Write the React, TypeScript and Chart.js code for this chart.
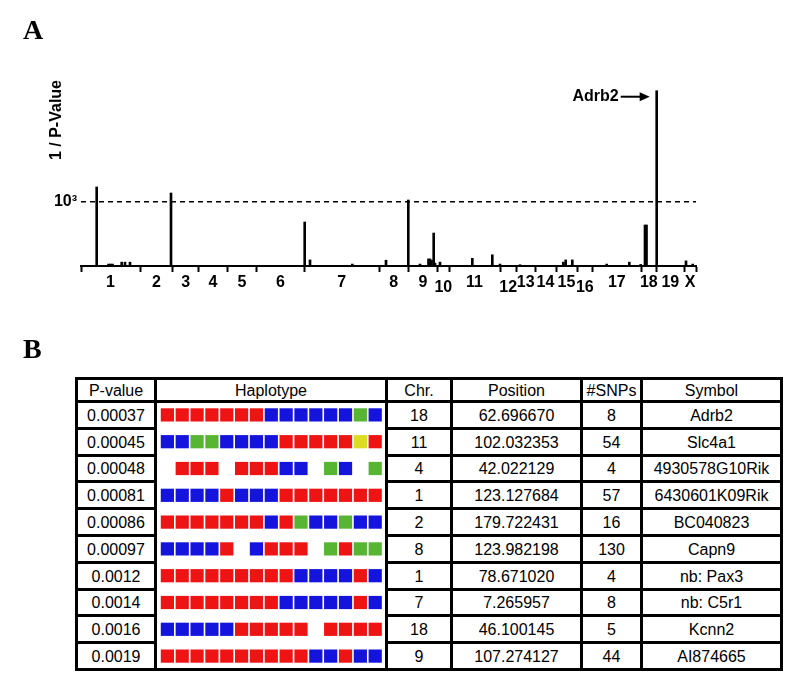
import React, { useEffect, useRef } from 'react';
import { Chart, registerables } from 'chart.js';

Chart.register(...registerables);

const SANS = '"Liberation Sans", Arial, Helvetica, sans-serif';
const SERIF = '"Liberation Serif", "Times New Roman", serif';

// ---------- Panel A data ----------
const chromosomeNames = ['1', '2', '3', '4', '5', '6', '7', '8', '9', '10', '11', '12', '13', '14', '15', '16', '17', '18', '19', 'X'];
// chromosome boundaries along the concatenated genome axis (relative units)
const chromosomeBounds = [0, 59, 91.7, 117.7, 146.3, 175.7, 223.3, 298.3, 327.3, 356.7, 368, 419, 435.3, 454, 475, 496, 511.7, 560, 575.7, 603, 615];
const loweredLabels = ['10', '12', '16'];
const thresholdValue = 1000;
const yAxisMax = 2900;
const spikePositions = [15.7, 27.5, 29.5, 31.5, 40.7, 44, 49, 90, 223.7, 229, 271.3, 305, 327.3, 339, 347.5, 349, 350.5, 352.7, 354, 359, 391.3, 411.3, 419, 439, 482.3, 484.7, 491.3, 525.7, 548.3, 559.7, 564, 565.5, 575.7, 605, 611.7];
const spikeValues = [1232, 30, 30, 30, 60, 60, 60, 1138, 686, 95, 30, 90, 1029, 30, 110, 110, 90, 514, 45, 60, 120, 175, 30, 20, 60, 95, 95, 30, 60, 25, 639, 639, 2733, 80, 30];
const annotatedGene = 'Adrb2';

// ---------- Panel B data ----------
const tableHeaders = ['P-value', 'Haplotype', 'Chr.', 'Position', '#SNPs', 'Symbol'];
const pValues = ['0.00037', '0.00045', '0.00048', '0.00081', '0.00086', '0.00097', '0.0012', '0.0014', '0.0016', '0.0019'];
const haplotypes = [
  'RRRRRRRBBBBBBGB',
  'BBGGBBBBRRRRRYR',
  '-RRR-RRRBB-GB-G',
  'BBBBRBBBRRRRRRR',
  'RRRRRRRBRGBBGBB',
  'BBBBR-BRRR-GRGG',
  'RRRRRRRRRBBBBRB',
  'RRRRRRRRBBBBBRB',
  'BBBBBRRRRR-RRRR',
  'RRRRRRRRRRBBRBB',
];
const chromosomes = ['18', '11', '4', '1', '2', '8', '1', '7', '18', '9'];
const positions = ['62.696670', '102.032353', '42.022129', '123.127684', '179.722431', '123.982198', '78.671020', '7.265957', '46.100145', '107.274127'];
const snpCounts = ['8', '54', '4', '57', '16', '130', '4', '8', '5', '44'];
const symbols = ['Adrb2', 'Slc4a1', '4930578G10Rik', '6430601K09Rik', 'BC040823', 'Capn9', 'nb: Pax3', 'nb: C5r1', 'Kcnn2', 'AI874665'];
const alleleCodes = ['R', 'B', 'G', 'Y'];
const alleleColors = ['#ee1414', '#1414dd', '#58b533', '#dcdc22'];

function ManhattanChart() {
  const ref = useRef<HTMLCanvasElement>(null);
  useEffect(() => {
    const centers = chromosomeNames.map((_, i) => (chromosomeBounds[i] + chromosomeBounds[i + 1]) / 2);
    const labelAt = new Map<number, string>();
    centers.forEach((c, i) => labelAt.set(c, chromosomeNames[i]));
    const boundarySet = new Set(chromosomeBounds);
    const tickValues = [...chromosomeBounds, ...centers].sort((a, b) => a - b);

    const arrowPlugin = {
      id: 'geneArrow',
      afterDatasetsDraw(chart: any) {
        const data = chart.data.datasets[0].data as { x: number; y: number }[];
        let best = data[0];
        data.forEach((d) => { if (d.y > best.y) best = d; });
        const px = chart.scales.x.getPixelForValue(best.x);
        const py = chart.scales.y.getPixelForValue(best.y);
        const tipX = px - 7;
        const ay = py + 6;
        const ctx = chart.ctx;
        ctx.save();
        ctx.strokeStyle = '#000';
        ctx.fillStyle = '#000';
        ctx.lineWidth = 2;
        ctx.beginPath();
        ctx.moveTo(tipX - 29, ay);
        ctx.lineTo(tipX - 7, ay);
        ctx.stroke();
        ctx.beginPath();
        ctx.moveTo(tipX, ay);
        ctx.lineTo(tipX - 10, ay - 4.5);
        ctx.lineTo(tipX - 10, ay + 4.5);
        ctx.closePath();
        ctx.fill();
        ctx.font = `bold 16px ${SANS}`;
        ctx.textAlign = 'right';
        ctx.textBaseline = 'middle';
        ctx.fillText(annotatedGene, tipX - 31, ay);
        ctx.restore();
      },
    };

    const chart = new Chart(ref.current as HTMLCanvasElement, {
      type: 'bar',
      data: {
        datasets: [
          {
            data: spikePositions.map((x, i) => ({ x, y: spikeValues[i] })),
            backgroundColor: '#000',
            borderWidth: 0,
            barThickness: 2,
          } as any,
        ],
      },
      options: {
        animation: false,
        responsive: false,
        events: [],
        layout: { autoPadding: false, padding: { left: 0, right: 104, top: 80, bottom: 0 } },
        plugins: { legend: { display: false }, tooltip: { enabled: false } },
        scales: {
          x: {
            type: 'linear',
            min: chromosomeBounds[0],
            max: chromosomeBounds[chromosomeBounds.length - 1],
            offset: false,
            afterBuildTicks: (scale: any) => {
              scale.ticks = tickValues.map((v) => ({ value: v }));
            },
            afterFit: (scale: any) => {
              scale.height = 44;
            },
            border: { display: true, color: '#000', width: 2 },
            grid: {
              offset: false,
              drawOnChartArea: false,
              drawTicks: true,
              tickLength: 6,
              tickWidth: 2,
              tickColor: (ctx: any) => (ctx.tick && boundarySet.has(ctx.tick.value) ? '#000' : 'rgba(0,0,0,0)'),
            },
            ticks: {
              autoSkip: false,
              maxRotation: 0,
              minRotation: 0,
              padding: 1,
              color: '#000',
              font: (ctx: any) => {
                const name = ctx.tick ? labelAt.get(ctx.tick.value) : undefined;
                const low = name !== undefined && loweredLabels.includes(name);
                return { family: SANS, size: 16, weight: 'bold', lineHeight: low ? 0.6 : 1.2 } as any;
              },
              callback: (value: any) => {
                const name = labelAt.get(Number(value));
                if (name === undefined) return '';
                return loweredLabels.includes(name) ? ['', name] : name;
              },
            },
          } as any,
          y: {
            type: 'linear',
            min: 0,
            max: yAxisMax,
            afterBuildTicks: (scale: any) => {
              scale.ticks = [{ value: thresholdValue }];
            },
            afterFit: (scale: any) => {
              scale.width = 81;
            },
            border: { display: false, dash: [5, 4] },
            grid: { color: '#000', lineWidth: 1.5, drawTicks: false },
            ticks: {
              padding: 4,
              color: '#000',
              font: { family: SANS, size: 16, weight: 'bold' },
              callback: () => '10³',
            },
            title: {
              display: true,
              text: '1 / P-Value',
              align: 'end',
              color: '#000',
              font: { family: SANS, size: 16, weight: 'bold' },
              padding: { top: 47, bottom: 0 },
            },
          } as any,
        },
      },
      plugins: [arrowPlugin],
    });
    return () => chart.destroy();
  }, []);
  return <canvas ref={ref} width={800} height={310} style={{ display: 'block' }} />;
}

function HaplotypeChart({ width, height }: { width: number; height: number }) {
  const ref = useRef<HTMLCanvasElement>(null);
  useEffect(() => {
    const datasets = alleleCodes.map((code, ci) => {
      const pts: { x: number; y: number }[] = [];
      haplotypes.forEach((row, r) => {
        row.split('').forEach((c, k) => {
          if (c === code) pts.push({ x: k, y: r });
        });
      });
      return {
        data: pts,
        pointStyle: 'rect',
        pointRadius: 9.35,
        pointBackgroundColor: alleleColors[ci],
        backgroundColor: alleleColors[ci],
        pointBorderWidth: 0,
        borderWidth: 0,
        clip: false,
      } as any;
    });
    const chart = new Chart(ref.current as HTMLCanvasElement, {
      type: 'scatter',
      data: { datasets },
      options: {
        animation: false,
        responsive: false,
        events: [],
        layout: { autoPadding: false, padding: 0 },
        plugins: { legend: { display: false }, tooltip: { enabled: false } },
        scales: {
          x: { type: 'linear', display: false, min: -0.7, max: 14.66 },
          y: { type: 'linear', display: false, min: -0.444, max: 9.444, reverse: true },
        },
      } as any,
    });
    return () => chart.destroy();
  }, []);
  return <canvas ref={ref} width={width} height={height} style={{ display: 'block', position: 'absolute', left: 0, top: 0 }} />;
}

const cellStyle: React.CSSProperties = {
  background: '#fff',
  display: 'flex',
  alignItems: 'center',
  justifyContent: 'center',
  fontFamily: SANS,
  fontSize: 16,
  color: '#000',
  lineHeight: 1,
  whiteSpace: 'nowrap',
  paddingTop: 2,
  boxSizing: 'border-box',
};

function HaplotypeTable() {
  const columns = [pValues, null, chromosomes, positions, snpCounts, symbols];
  const cells: React.ReactNode[] = [];
  tableHeaders.forEach((h, c) => {
    cells.push(
      <div key={`h${c}`} style={{ ...cellStyle, gridRow: 1, gridColumn: c + 1, paddingTop: 1 }}>{h}</div>
    );
  });
  pValues.forEach((_, r) => {
    columns.forEach((col, c) => {
      if (col === null) {
        if (r === 0) {
          cells.push(
            <div key="hap" style={{ background: '#fff', position: 'relative', overflow: 'hidden', gridRow: '2 / 12', gridColumn: 2 }}>
              <HaplotypeChart width={228} height={265} />
            </div>
          );
        }
        return;
      }
      cells.push(
        <div key={`c${r}-${c}`} style={{ ...cellStyle, gridRow: r + 2, gridColumn: c + 1 }}>{col[r]}</div>
      );
    });
  });
  return (
    <div
      style={{
        position: 'absolute',
        left: 75,
        top: 377,
        width: 708,
        height: 294,
        boxSizing: 'border-box',
        padding: 3,
        background: '#000',
        display: 'grid',
        gridTemplateColumns: '76px 228px 62px 127px 57px 137px',
        gridTemplateRows: '20px repeat(10, 1fr)',
        gap: 3,
      }}
    >
      {cells}
    </div>
  );
}

export default function App() {
  const letter: React.CSSProperties = {
    position: 'absolute',
    fontFamily: SERIF,
    fontWeight: 'bold',
    fontSize: 28,
    lineHeight: 1,
    color: '#000',
  };
  return (
    <div style={{ position: 'absolute', left: 0, top: 0, width: 800, height: 695, background: '#fff', overflow: 'hidden' }}>
      <div style={{ position: 'absolute', left: 0, top: 0, width: 800, height: 310 }}>
        <ManhattanChart />
      </div>
      <div style={{ ...letter, left: 23, top: 16 }}>A</div>
      <div style={{ ...letter, left: 23, top: 335 }}>B</div>
      <HaplotypeTable />
    </div>
  );
}
